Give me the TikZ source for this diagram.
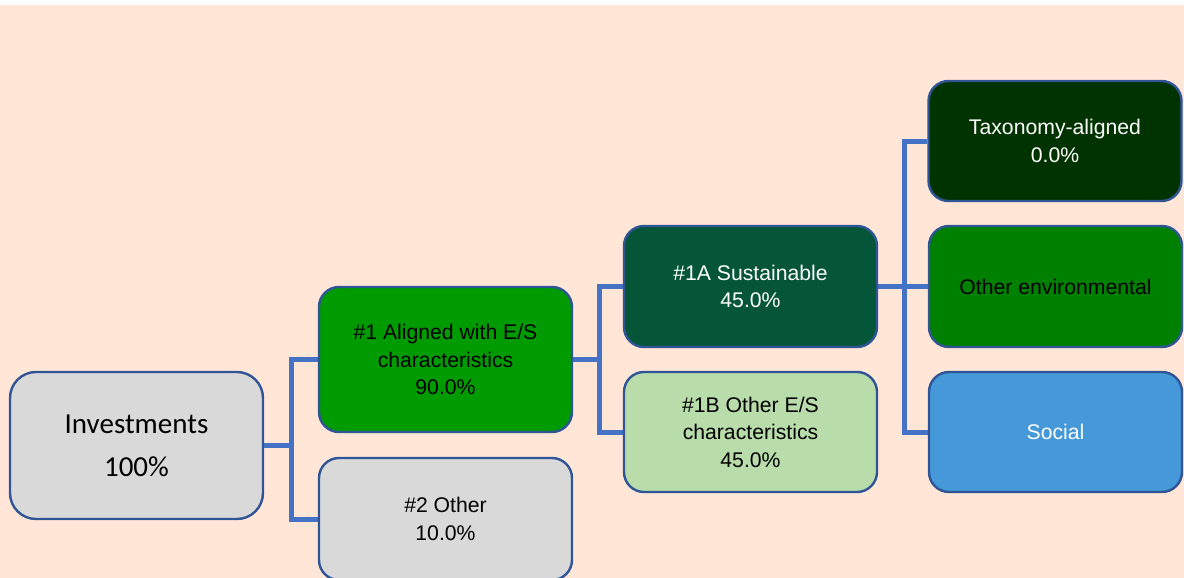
\documentclass[tikz,border=0pt]{standalone}
\usepackage{fontspec}
\setmainfont{Liberation Sans}
\newfontfamily\calfont{Carlito}
\usetikzlibrary{backgrounds}
\definecolor{peach}{RGB}{255,230,214}
\definecolor{edge}{RGB}{47,85,151}
\definecolor{conn}{RGB}{68,114,196}
\definecolor{greyfill}{RGB}{217,217,217}
\definecolor{aligned}{RGB}{0,155,0}
\definecolor{sust}{RGB}{5,86,56}
\definecolor{otheres}{RGB}{185,221,170}
\definecolor{taxo}{RGB}{0,51,0}
\definecolor{oenvc}{RGB}{0,128,0}
\definecolor{socialc}{RGB}{69,153,216}
\tikzset{
  box/.style={draw=edge, line width=2.4pt, rounded corners=20pt, inner sep=0pt,
    minimum width=253pt, minimum height=120pt, align=center,
    font=\fontsize{21.2}{27.5}\selectfont},
  link/.style={draw=conn, line width=5pt, line join=miter}
}
\begin{document}
\begin{tikzpicture}[x=1pt,y=-1pt]
\useasboundingbox (0,0) rectangle (1187,578);
\clip (0,0) rectangle (1187,578);
\node[box, fill=greyfill, minimum height=147pt, rounded corners=26pt,
  font=\calfont\fontsize{29}{43}\selectfont] (inv) at (136.5,445.5) {Investments\\100\%};
\node[box, fill=aligned, minimum height=145pt] (a1) at (445.5,359.5) {\#1 Aligned with E/S\\characteristics\\90.0\%};
\node[box, fill=greyfill, minimum height=122pt] (o2) at (445.5,519) {\#2 Other\\10.0\%};
\node[box, fill=sust, text=white, minimum height=121pt] (s1a) at (750.5,286.5) {\#1A Sustainable\\45.0\%};
\node[box, fill=otheres, minimum height=120pt] (s1b) at (750.5,432) {\#1B Other E/S\\characteristics\\45.0\%};
\node[box, fill=taxo, text=white] (tax) at (1055,141) {Taxonomy-aligned\\0.0\%};
\node[box, fill=oenvc, minimum height=121pt] (oenv) at (1055.5,286.5) {Other environmental};
\node[box, fill=socialc, text=white] (soc) at (1055.5,432) {Social};
\begin{scope}[on background layer]
\fill[white] (0,0) rectangle (1187,578);
\fill[peach] (0,5) rectangle (1184,578);
\draw[link] (inv.east) -- ++(27,0) coordinate (b1);
\draw[link] (b1) |- (a1.west);
\draw[link] (b1) |- (o2.west);
\draw[link] (a1.east) -- ++(26,0) coordinate (b2);
\draw[link] (b2) |- (s1a.west);
\draw[link] (b2) |- (s1b.west);
\draw[link] (s1a.east) -- ++(26,0) coordinate (b3);
\draw[link] (b3) |- (tax.west);
\draw[link] (b3) |- (oenv.west);
\draw[link] (b3) |- (soc.west);
\end{scope}
\end{tikzpicture}
\end{document}
